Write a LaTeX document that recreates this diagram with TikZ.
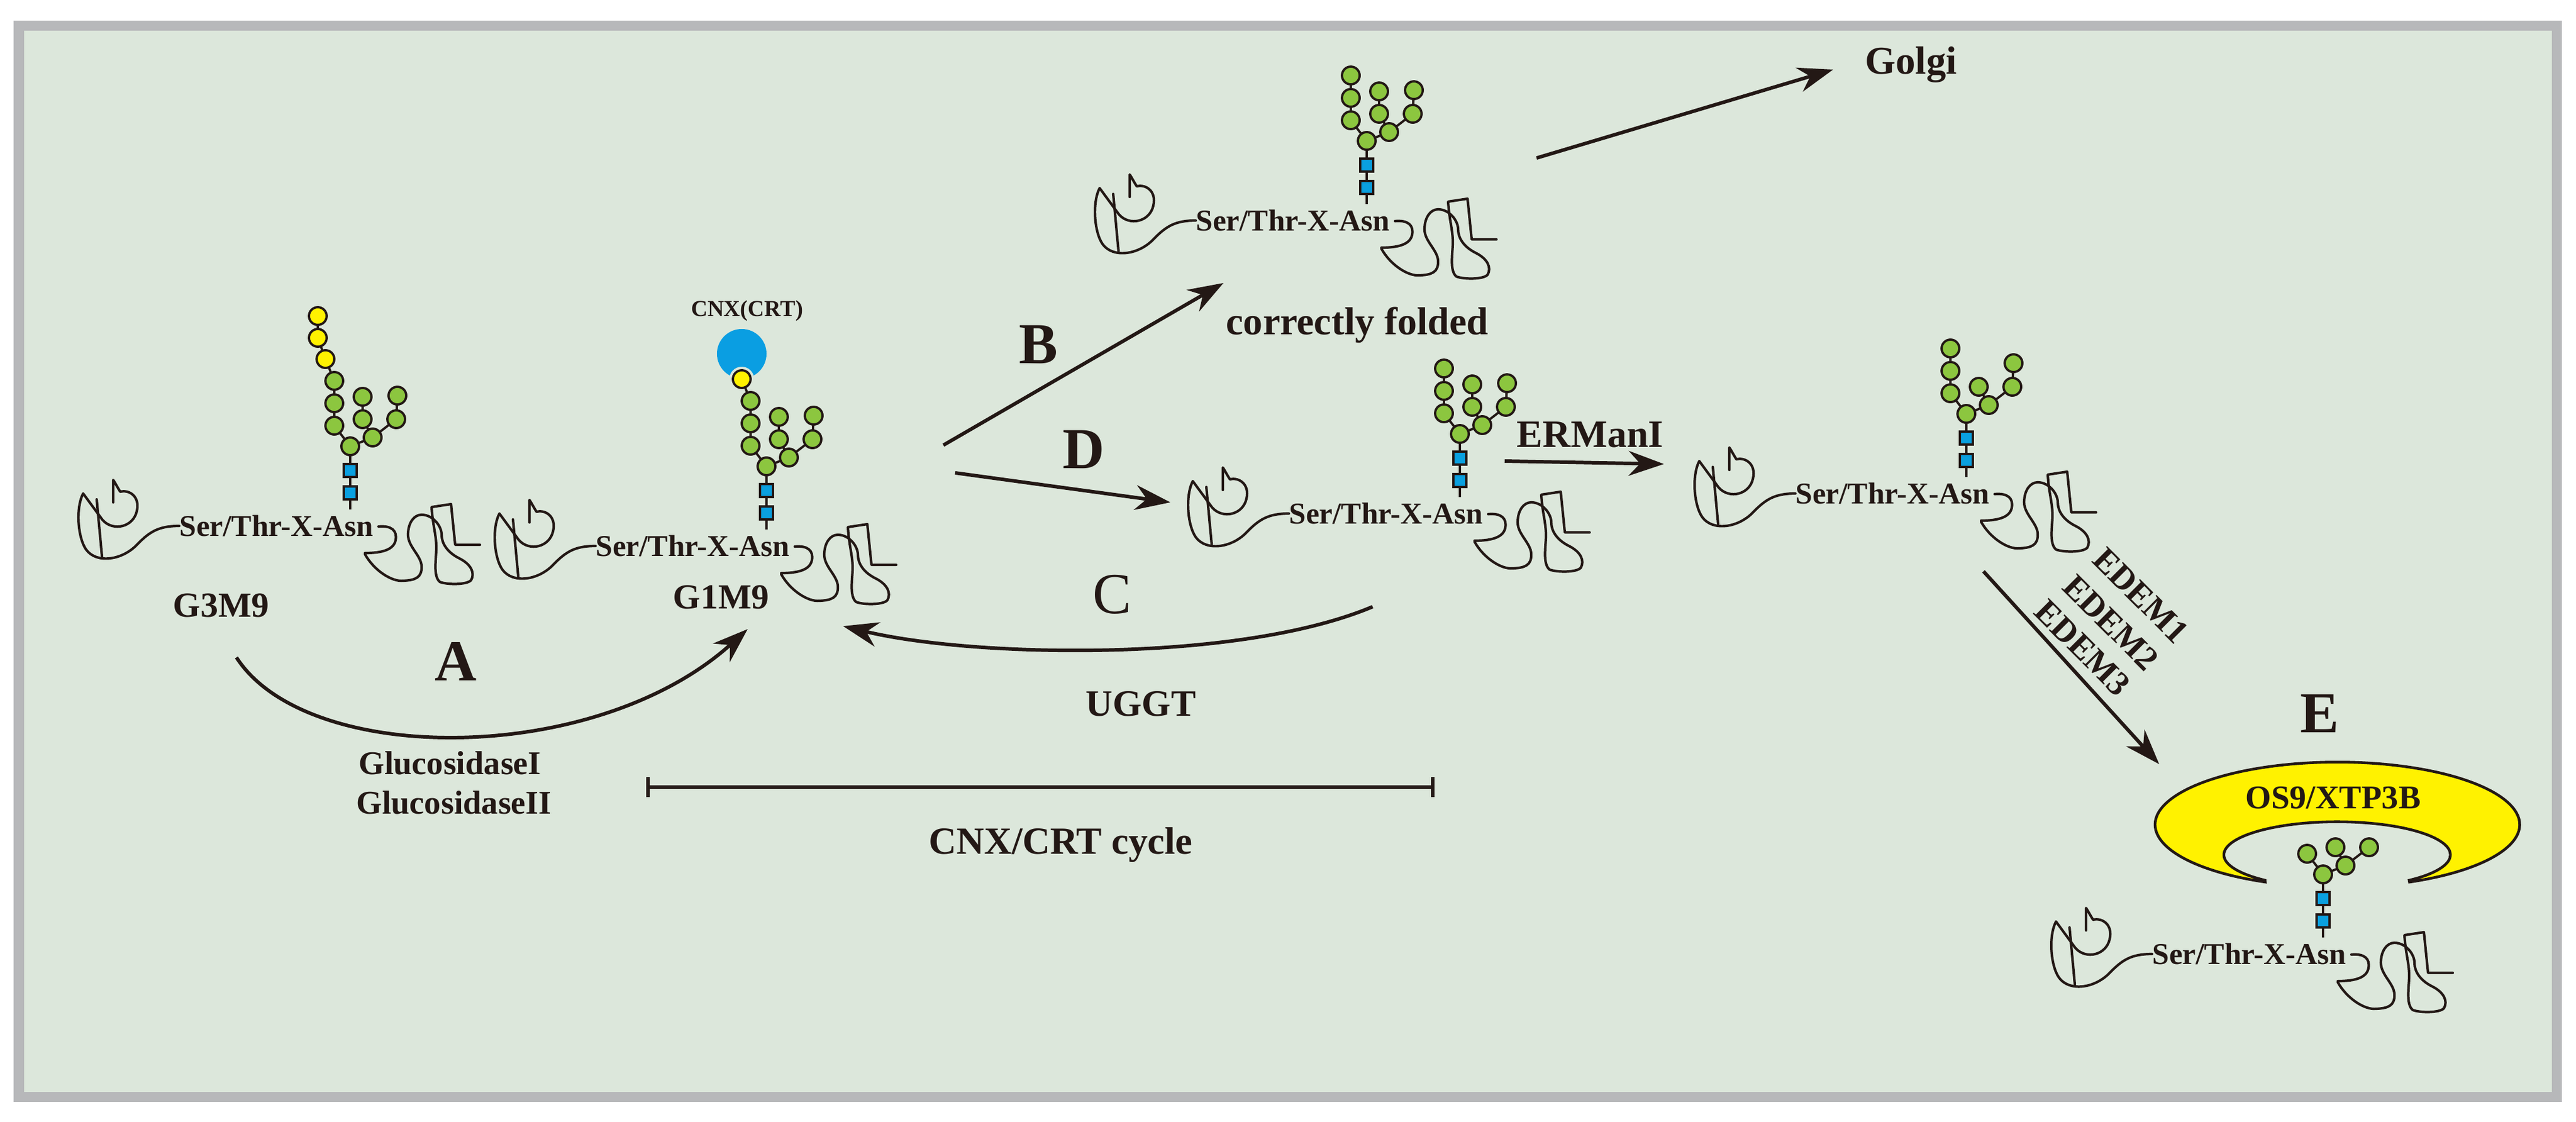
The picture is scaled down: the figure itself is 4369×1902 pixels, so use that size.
\documentclass[tikz,border=0pt]{standalone}
\usepackage{fontspec}
\setmainfont{Liberation Serif}
\usetikzlibrary{arrows.meta}
\definecolor{bg}{HTML}{DCE7DB}
\definecolor{frm}{HTML}{B7B8BA}
\definecolor{mgreen}{HTML}{8CC63F}
\definecolor{gyel}{HTML}{FFF200}
\definecolor{nblue}{HTML}{0AA0E0}
\definecolor{cblue}{HTML}{0A9EE2}
\definecolor{ink}{HTML}{231815}
\tikzset{
 lnk/.style={draw=ink,line width=1.1pt},
 man/.style={circle,draw=ink,line width=1.1pt,fill=mgreen,minimum size=0.3cm,inner sep=0pt},
 glc/.style={man,fill=gyel},
 nag/.style={rectangle,draw=ink,line width=1.1pt,fill=nblue,minimum size=0.22cm,inner sep=0pt},
 prot/.style={draw=ink,line width=1.2pt,line cap=round,line join=round},
 ser/.style={inner sep=0pt,text=ink,font=\fontsize{14.6}{16}\selectfont\bfseries},
 lbl/.style={inner sep=0pt,text=ink,font=\fontsize{#1}{#1}\selectfont\bfseries},
 rlbl/.style={inner sep=0pt,text=ink,font=\fontsize{#1}{#1}\selectfont},
 arr/.style={draw=ink,line width=1.7pt,-{Stealth[length=17pt,width=12pt]}},
}
% glycan: name, x, y, type (5=M5, 8=M8, 9=M9, 10=G1M9, 12=G3M9)
\newcommand\myglycan[4]{%
\begin{scope}[shift={(#2,#3)}]
 \coordinate (#1-s) at (0,0);
 \draw[lnk] (0,0)--(0,-107) --(-27,-142);
 \draw[lnk] (0,-107)--(38,-122)--(21,-153);
 \draw[lnk] (38,-122)--(78,-153);
 \ifnum#4>7 \draw[lnk] (-27,-142)--(-27,-218); \draw[lnk] (78,-153)--(80,-193);\fi
 \ifnum#4>8 \draw[lnk] (21,-153)--(21,-191);\fi
 \ifnum#4>9 \draw[lnk] (-27,-218)--(-42,-255);\fi
 \ifnum#4>11 \draw[lnk] (-42,-255)--(-55,-291)--(-55,-328);\fi
 \node[nag] (#1-n1) at (0,-28) {};
 \node[nag] (#1-n2) at (0,-66) {};
 \node[man] (#1-c) at (0,-107) {};
 \node[man] (#1-l1) at (-27,-142) {};
 \node[man] (#1-r0) at (38,-122) {};
 \node[man] (#1-m1) at (21,-153) {};
 \node[man] (#1-r1) at (78,-153) {};
 \ifnum#4>7 \node[man] (#1-l2) at (-27,-180) {}; \node[man] (#1-l3) at (-27,-218) {};
   \node[man] (#1-r2) at (80,-193) {};\fi
 \ifnum#4>8 \node[man] (#1-m2) at (21,-191) {};\fi
 \ifnum#4>9 \node[glc] (#1-y1) at (-42,-255) {};\fi
 \ifnum#4>11 \node[glc] (#1-y2) at (-55,-291) {}; \node[glc] (#1-y3) at (-55,-328) {};\fi
\end{scope}}
% protein: name, stem x, stem y
\newcommand\myprotein[3]{%
\begin{scope}[shift={(#2,#3)}]
 \node[ser] (#1-t) at (-125,28) {Ser/Thr-X-Asn};
 \begin{scope}[shift={(-290,28)}]
  \draw[prot] (0,0) .. controls (-35,0) and (-50,10) .. (-70,30) .. controls (-95,58) and (-140,65) .. (-158,40)
   .. controls (-172,20) and (-176,-30) .. (-163,-55) -- (-130,-10) .. controls (-112,10) and (-78,2) .. (-72,-25)
   .. controls (-66,-50) and (-85,-62) .. (-100,-58) .. controls (-104,-64) and (-108,-72) .. (-112,-78) -- (-112,-40);
  \draw[prot] (-131,52) -- (-140,-45);
 \end{scope}
 \begin{scope}[shift={(40,28)}]
  \draw[prot] (8,1) .. controls (30,-1) and (40,8) .. (37,24) .. controls (34,40) and (15,46) .. (-15,46);
  \draw[prot] (-15,48) .. controls (0,75) and (30,95) .. (50,93) .. controls (70,92) and (82,88) .. (81,68)
   .. controls (80,50) and (58,35) .. (58,15) .. controls (58,-5) and (68,-19) .. (81,-19)
   .. controls (100,-19) and (115,0) .. (115,15) .. controls (115,30) and (125,45) .. (145,55)
   .. controls (165,65) and (172,80) .. (165,92) .. controls (158,100) and (125,100) .. (112,95)
   .. controls (100,85) and (106,55) .. (106,37) .. controls (106,15) and (100,0) .. (98,-32)
   -- (131,-37) -- (138,32) -- (180,32);
 \end{scope}
\end{scope}}
\begin{document}
\begin{tikzpicture}[x=0.01cm,y=-0.01cm]
\useasboundingbox (0,0) rectangle (4369,1902);
\fill[white] (0,0) rectangle (4369,1902);
\draw[frm,line width=4.84pt,fill=bg] (32,43) rectangle (4336,1860);

% proteins
\myprotein{p1}{594}{864}
\myglycan{g1}{594}{864}{12}
\node[lbl=17] (g3m9) at (375,1027) {G3M9};

\fill[cblue] (1258,600) circle[radius=0.42cm];
\fill[bg] (1258,643) circle[radius=0.21cm];
\myprotein{p2}{1300}{898}
\myglycan{g2}{1300}{898}{10}
\node[lbl=11] (cnx) at (1267,527) {CNX(CRT)};
\node[lbl=17] (g1m9) at (1223,1013) {G1M9};

\myprotein{p3}{2318}{346}
\myglycan{g3}{2318}{346}{9}
\node[lbl=18.8] (cf) at (2302,551) {correctly folded};

\myprotein{p4}{2476}{843}
\myglycan{g4}{2476}{843}{9}

\myprotein{p5}{3335}{809}
\myglycan{g5}{3335}{809}{8}

% crescent
\fill[gyel,draw=ink,line width=1.3pt] (3842,1496) arc[start angle=246.7,end angle=-66.7,x radius=3.09cm,y radius=1.06cm]
  -- (4086,1493) arc[start angle=-50.5,end angle=230.5,x radius=1.92cm,y radius=0.56cm] -- cycle;
\node[lbl=16] (os9) at (3957,1353) {OS9/XTP3B};
\myprotein{p6}{3940}{1590}
\myglycan{g6}{3940}{1590}{5}

% arrow end points
\coordinate (aS) at (401,1115); \coordinate (aE) at (1268,1067);
\coordinate (cS) at (2328,1029); \coordinate (cE) at (1430,1062);
\coordinate (bS) at (1600,755); \coordinate (bE) at (2075,480);
\coordinate (dS) at (1620,802); \coordinate (dE) at (1985,852);
\coordinate (gS) at (2606,268); \coordinate (gE) at (3109,118);
\coordinate (eS) at (2552,782); \coordinate (eE) at (2822,787);
\coordinate (xS) at (3364,969); \coordinate (xE) at (3662,1296);
\coordinate (barL) at (1096,1335); \coordinate (barR) at (2433,1335);

\draw[arr] (aS) .. controls (520,1300) and (1010,1300) .. (aE);
\draw[arr] (cS) .. controls (2100,1125) and (1650,1115) .. (cE);
\draw[arr] (bS) -- (bE);
\draw[arr] (dS) -- (dE);
\draw[arr] (gS) -- (gE);
\draw[arr] (eS) -- (eE);
\draw[arr] (xS) -- (xE);
\draw[draw=ink,line width=1.7pt,{Bar[width=34pt*0.2845]}-{Bar[width=34pt*0.2845]}] (barL) -- (barR);

% labels
\node[lbl=28] (lA) at (773,1122) {A};
\node[lbl=28] (lB) at (1761,584) {B};
\node[rlbl=28] (lC) at (1886,1008) {C};
\node[lbl=28] (lD) at (1838,762) {D};
\node[lbl=28] (lE) at (3934,1210) {E};
\node[lbl=18] (uggt) at (1935,1194) {UGGT};
\node[lbl=16] (gI) at (763,1294) {GlucosidaseI};
\node[lbl=16] (gII) at (770,1361) {GlucosidaseII};
\node[lbl=18.5] (cyc) at (1799,1433) {CNX/CRT cycle};
\node[lbl=19] (golgi) at (3241,110) {Golgi};
\node[lbl=18.7] (erm) at (2697,737) {ERManI};
\node[lbl=16.4,rotate=-45] (ed1) at (3631,1010) {EDEM1};
\node[lbl=16.4,rotate=-45] (ed2) at (3580,1056) {EDEM2};
\node[lbl=16.4,rotate=-45] (ed3) at (3532,1099) {EDEM3};
\end{tikzpicture}
\end{document}
